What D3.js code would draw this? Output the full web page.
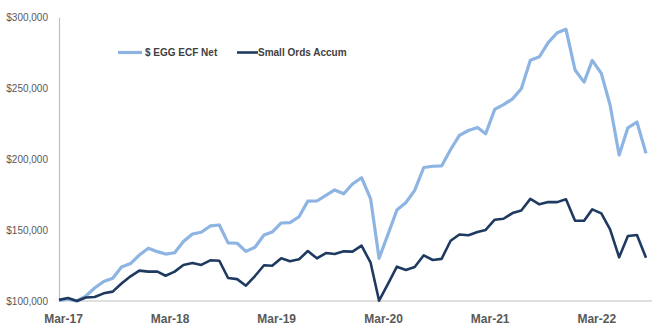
<!DOCTYPE html>
<html>
<head>
<meta charset="utf-8">
<script src="https://cdn.jsdelivr.net/npm/d3@7"></script>
<style>
  body { margin: 0; background: #fff; }
  svg { display: block; font-family: "Liberation Sans", Arial, sans-serif; }
  .y-axis text { font-size: 10px; fill: #595959; }
  .x-axis text { font-size: 12px; font-weight: bold; fill: #595959; }
  .legend text { font-size: 10px; font-weight: bold; fill: #404040; }
</style>
</head>
<body>
<svg width="656" height="326"></svg>
<script>
(function (d3) {
  "use strict";

  // monthly points, Mar-17 .. Sep-22
  const startMonth = "Mar-17";
  const seriesNames = ["$ EGG ECF Net", "Small Ords Accum"];

  const eggNet = [
    100500, 101400, 100000, 103500, 109200, 113700, 116000, 124000, 126400, 132400,
    137200, 134800, 133100, 134000, 141900, 147200, 148500, 152900, 153600, 141000,
    140700, 135000, 137900, 146500, 148600, 155000, 155200, 159400, 170400, 170500,
    174400, 178300, 175600, 182500, 186900, 172000, 130100, 147200, 164200, 169400,
    178000, 194100, 195000, 195200, 206800, 216700, 220200, 222300, 217900, 235100,
    238400, 242500, 249600, 269700, 272200, 282200, 289100, 291500, 262900, 254300,
    269600, 260500, 238200, 202900, 222100, 226200, 204100
  ];

  const smallOrds = [
    100800, 102100, 100000, 102500, 102800, 105400, 106600, 112300, 117400, 121400,
    120700, 120700, 117800, 120700, 125400, 126800, 125400, 128700, 128400, 116200,
    115400, 110800, 117600, 125200, 124800, 130100, 128000, 129400, 135200, 130100,
    133800, 133100, 135000, 134800, 139000, 127000, 100200, 112300, 124200, 121900,
    124000, 132200, 128900, 129700, 142500, 146900, 146400, 148600, 150100, 157300,
    158000, 162000, 163800, 172000, 168200, 169800, 169700, 171700, 156600, 156600,
    164600, 161800, 150500, 130800, 145800, 146500, 130500
  ];

  const xTickLabels = ["Mar-17", "Mar-18", "Mar-19", "Mar-20", "Mar-21", "Mar-22"];
  const yTicks = [100000, 150000, 200000, 250000, 300000];

  const colors = ["#8db4e2", "#1f3a60"];

  const svg = d3.select("svg");
  const parse = d3.timeParse("%b-%y");
  const start = parse(startMonth);
  const dates = eggNet.map((d, i) => d3.timeMonth.offset(start, i));

  const xScale = d3
    .scaleTime()
    .domain([dates[0], dates[dates.length - 1]])
    .range([59, 646]);

  const yScale = d3.scaleLinear().domain([100000, 300000]).range([301, 17.3]);

  // y axis
  const yAxis = d3
    .axisLeft(yScale)
    .tickValues(yTicks)
    .tickSize(0)
    .tickPadding(11)
    .tickFormat(d3.format("$,.0f"));

  const yAxisG = svg
    .append("g")
    .attr("class", "y-axis")
    .attr("transform", "translate(59,0)")
    .call(yAxis);
  yAxisG.select(".domain").attr("stroke", "#bfbfbf").attr("stroke-width", 1.2);
  yAxisG.selectAll("text").attr("dy", "0.35em");

  // x axis
  const xAxis = d3
    .axisBottom(xScale)
    .tickValues(xTickLabels.map(parse))
    .tickSize(0)
    .tickPadding(13)
    .tickFormat(d3.timeFormat("%b-%y"));

  const xAxisG = svg
    .append("g")
    .attr("class", "x-axis")
    .attr("transform", "translate(0,301)")
    .call(xAxis);
  xAxisG
    .select(".domain")
    .attr("stroke", "#bfbfbf")
    .attr("stroke-width", 1.2)
    .attr("d", `M59,0H652`);
  xAxisG.selectAll("text").attr("dx", 4);

  // lines
  const series = [eggNet, smallOrds];
  const lineGen = d3
    .line()
    .x((d, i) => xScale(dates[i]))
    .y((d) => yScale(d));

  svg
    .selectAll(".line-path")
    .data(series)
    .enter()
    .append("path")
    .attr("class", "line-path")
    .attr("fill", "none")
    .attr("stroke", (d, i) => colors[i])
    .attr("stroke-width", (d, i) => (i === 0 ? 3.2 : 2.6))
    .attr("stroke-linejoin", "round")
    .attr("d", lineGen);

  // legend
  const legendX = [118, 237];
  const legend = svg
    .append("g")
    .attr("class", "legend")
    .selectAll("g")
    .data(seriesNames)
    .enter()
    .append("g")
    .attr("transform", (d, i) => `translate(${legendX[i]},52.5)`);

  legend
    .append("line")
    .attr("x1", 0)
    .attr("x2", (d, i) => (i === 0 ? 24 : 21))
    .attr("stroke", (d, i) => colors[i])
    .attr("stroke-width", (d, i) => (i === 0 ? 3.2 : 2.6));

  legend
    .append("text")
    .attr("x", (d, i) => (i === 0 ? 27 : 21))
    .attr("dy", "0.35em")
    .text((d) => d);
})(d3);
</script>
</body>
</html>
